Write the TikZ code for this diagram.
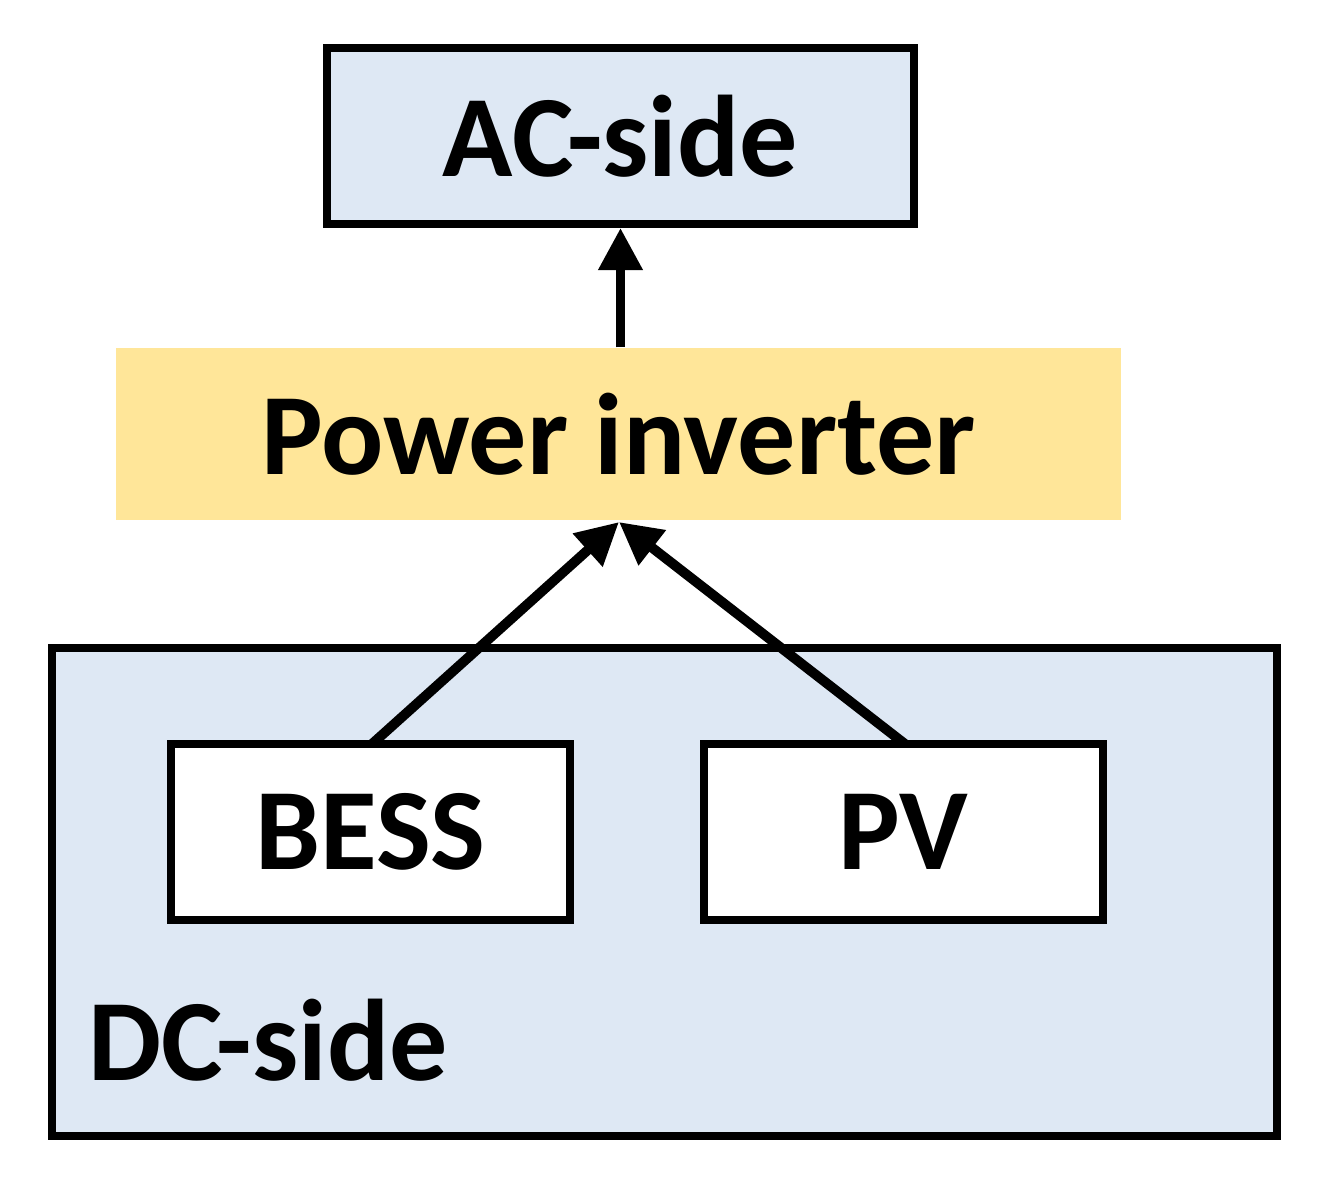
\documentclass[tikz,border=0pt]{standalone}
\usepackage{fontspec}
\setmainfont{Carlito}
\usetikzlibrary{arrows.meta}
\definecolor{lb}{HTML}{DEE8F4}
\definecolor{ly}{HTML}{FFE699}
\begin{document}
\begin{tikzpicture}[x=0.01cm,y=-0.01cm,
 box/.style={draw=black,line width=2.2pt,inner sep=0pt},
 lbl/.style={font=\fontsize{33}{40}\selectfont\bfseries},
 arr/.style={line width=2.8pt,-{Triangle[length=12pt,width=12pt]}}]
\useasboundingbox (0,0) rectangle (1326,1184);
\filldraw[box,fill=lb] (52,648) rectangle (1277,1136);
\node[lbl,anchor=base west,inner sep=0pt] (dc) at (88,1080) {DC-side};
\node[box,fill=lb,minimum width=5.87cm,minimum height=1.76cm] (ac) at (620.5,136) {};
\node[lbl] (actxt) at (ac) {AC-side};
\node[fill=ly,minimum width=10.05cm,minimum height=1.72cm,inner sep=0pt] (inv) at (618.5,434) {};
\node[lbl] (invtxt) at (inv) {Power inverter};
\node[box,fill=white,minimum width=3.99cm,minimum height=1.76cm] (bess) at (370.5,832) {};
\node[lbl] (besstxt) at (bess) {BESS};
\node[box,fill=white,minimum width=3.99cm,minimum height=1.76cm] (pv) at (903.5,832) {};
\node[lbl] (pvtxt) at (pv) {PV};
\coordinate (tip) at (619,522);
\draw[arr] (inv.north -| ac.south) -- (ac.south);
\draw[arr] (372,744) -- (tip);
\draw[arr] (905,744) -- (tip);
\end{tikzpicture}
\end{document}
